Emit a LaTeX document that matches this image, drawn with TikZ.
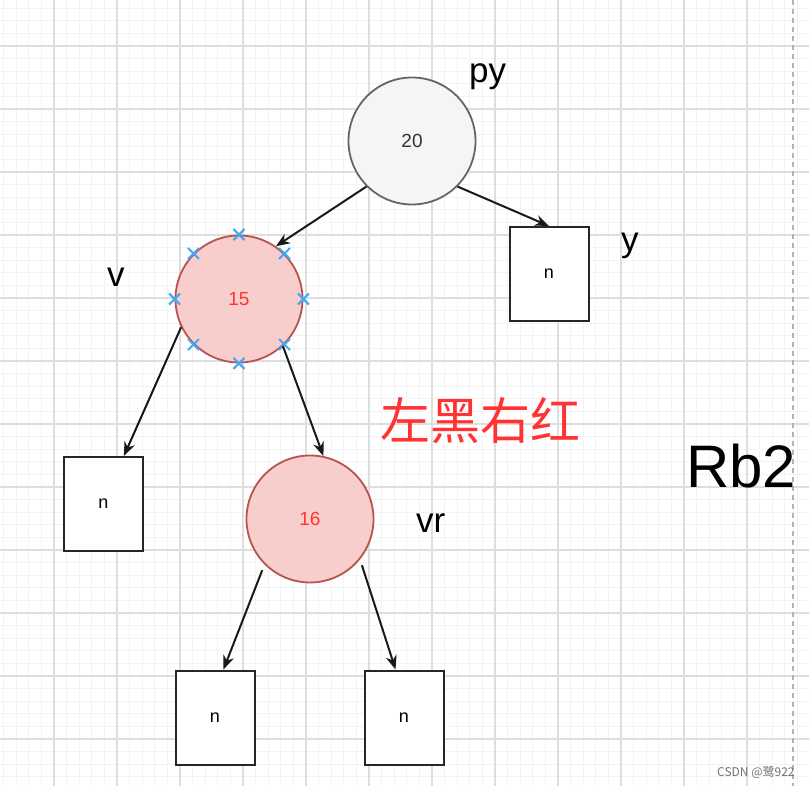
\documentclass[tikz,border=0pt]{standalone}
\usepackage{fontspec}
\setmainfont{Liberation Sans}
\newfontfamily\cjk{Noto Sans CJK SC}
\usetikzlibrary{arrows.meta}

\definecolor{redfill}{HTML}{F8CECC}
\definecolor{redline}{HTML}{B85450}
\definecolor{redtext}{HTML}{FF3333}
\definecolor{grayfill}{HTML}{F5F5F5}
\definecolor{grayline}{HTML}{666666}
\definecolor{handleblue}{HTML}{3FA9F5}
\definecolor{gridmajor}{HTML}{DEDEDE}
\definecolor{gridminor}{HTML}{F3F3F3}

\begin{document}
\begin{tikzpicture}[
  x=1pt,
  y=-1pt,
  >={Stealth[length=14,width=11]},
  minorgrid/.style={draw=gridminor, line width=1},
  majorgrid/.style={draw=gridmajor, line width=1.8},
  pagebreak/.style={draw=black!30, line width=1.2, dash pattern=on 5 off 4},
  graynode/.style={circle, draw=grayline, fill=grayfill, line width=1.8, minimum size=127,
    inner sep=0, text=black!80, font=\fontsize{19}{22}\selectfont},
  rednode/.style={circle, draw=redline, fill=redfill, line width=1.8, minimum size=127,
    inner sep=0, text=redtext, font=\fontsize{19}{22}\selectfont},
  leaf/.style={draw=black!85, fill=white, line width=2, minimum width=79, minimum height=94,
    inner sep=0, font=\fontsize{18}{21}\selectfont},
  arrow/.style={draw=black!90, line width=2, ->},
  handle/.style={draw=handleblue, line width=2},
  tag/.style={anchor=base west, inner sep=0, font=\fontsize{35}{40}\selectfont},
  every node/.style={inner sep=0}
]
\path[use as bounding box] (0,0) rectangle (809,786);
\fill[white] (0,0) rectangle (809,786);

% Background grid
\foreach \i in {0,...,64}
  \draw[minorgrid] ({3.6+12.6*\i},0) -- ++(0,786);
\foreach \i in {0,...,61}
  \draw[minorgrid] (0,{8.2+12.6*\i}) -- ++(809,0);
\foreach \i in {0,...,12}
  \draw[majorgrid] ({54+63*\i},0) -- ++(0,786);
\foreach \i in {0,...,11}
  \draw[majorgrid] (0,{46+63*\i}) -- ++(809,0);
\draw[pagebreak] (793,0) -- (793,786);

% Tree nodes
\node[graynode] (n20) at (412,141) {20};
\node[rednode] (n15) at (239,299) {15};
\node[rednode] (n16) at (310,519) {16};
\node[leaf] (ny) at (549,274) {n};
\node[leaf] (nl) at (103.5,504) {n};
\node[leaf] (nll) at (215,717.5) {n};
\node[leaf] (nlr) at (404,717.5) {n};

% Selection handles on 15
\foreach \a in {0,45,...,315}
  \draw[handle] (n15.\a) ++(-5.5,-5.5) -- ++(11,11) ++(0,-11) -- ++(-11,11);

% Edges
\draw[arrow] (n20.225) -- (n15.55);
\draw[arrow] (n20.-45) -- (ny.north);
\draw[arrow] (n15.206) -- (nl.67);
\draw[arrow] (n15.-47) -- (n16.78);
\draw[arrow, shorten <=6] (n16.225) -- (nll.80);
\draw[arrow, shorten <=6] (n16.-39) -- (nlr.100);

% Labels
\node[tag] (lpy) at (469,83) {py};
\node[tag] (lv) at (107,287) {v};
\node[tag] (ly) at (621,252) {y};
\node[tag] (lvr) at (416,532) {vr};
\node[anchor=base west, text=redtext, font=\cjk\fontsize{50}{56}\selectfont] (rule) at (380.5,439) {左黑右红};
\node[anchor=base west, font=\fontsize{60}{66}\selectfont] (title) at (686,487) {Rb2};
\node[anchor=base west, text=black!55, font=\cjk\fontsize{12}{14}\selectfont] (mark) at (717,776) {CSDN @鹭922};

\end{tikzpicture}
\end{document}
